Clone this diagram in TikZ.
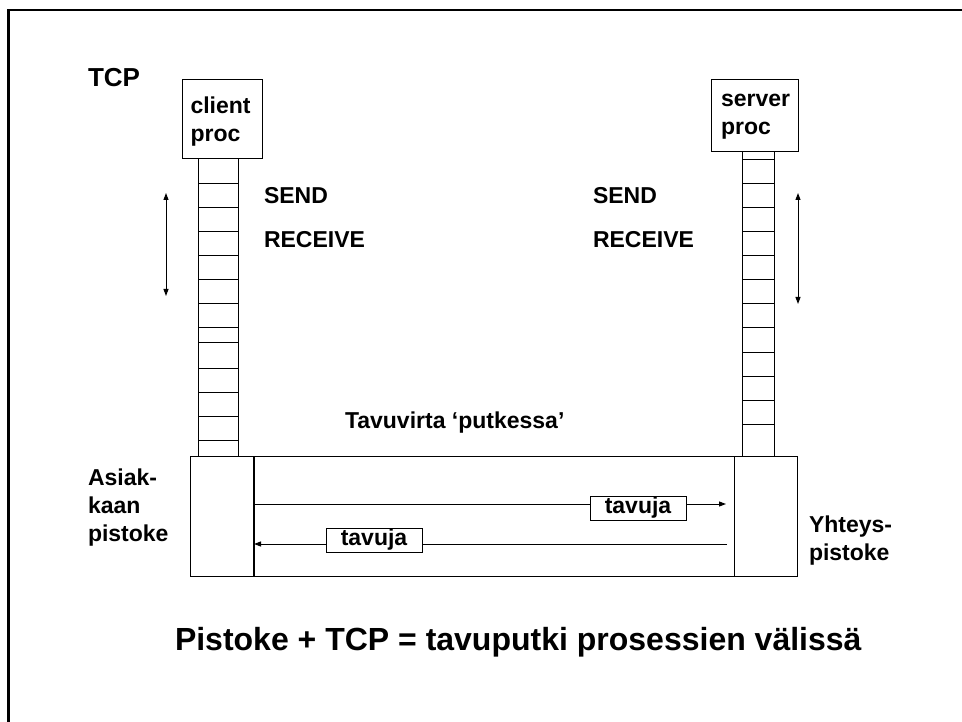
\documentclass[tikz,border=0pt]{standalone}
\usepackage{fontspec}
\setmainfont{Liberation Sans}
\usetikzlibrary{positioning, arrows.meta}

\begin{document}
\begin{tikzpicture}[x=1pt, y=-1pt, >={Stealth[length=7pt, width=5pt, inset=0pt]}, font=\bfseries\fontsize{23}{28}\selectfont, inner sep=0pt, outer sep=0pt]
    \tikzstyle{proc} = [rectangle, draw, line width=1pt]
    \tikzstyle{stack} = [rectangle, draw, line width=1pt]
    \tikzstyle{sock} = [rectangle, draw, line width=1pt, minimum height=120pt]
    \tikzstyle{tagbox} = [rectangle, draw, fill=white, line width=1pt, minimum width=96pt, minimum height=24pt]
    \tikzstyle{txt} = [anchor=base west, align=left]
    \tikzstyle{arrow} = [line width=1pt, ->]

    \useasboundingbox (0,0) rectangle (962,722);
    \draw [line width=2.5pt] (8.5,722) -- (8.5,10) -- (962,10);

    \node [txt, font=\bfseries\fontsize{26}{30}\selectfont] (tcp) at (88,87) {TCP};

    \node [proc, minimum width=80pt, minimum height=79pt] (cproc) at (222,119.5) {};
    \node [proc, minimum width=87pt, minimum height=72pt] (sproc) at (754.5,116) {};
    \node [txt] (cproctext) at (190.5,142) {client\\proc};
    \node [txt] (sproctext) at (721,135) {server\\proc};

    \node [stack, minimum width=40pt, minimum height=297pt, below=0pt of cproc, xshift=-4pt] (cstack) {};
    \node [stack, minimum width=32pt, minimum height=304pt, below=0pt of sproc, xshift=3.5pt] (sstack) {};
    \foreach \y in {184,208,232,256,280,304,328,343,368,392,416,440}
        \draw [line width=1pt] (198,\y) -- (238,\y);
    \foreach \y in {160,184,...,424}
        \draw [line width=1pt] (742,\y) -- (774,\y);

    \node [sock, minimum width=64pt, below=0pt of cstack, xshift=4pt] (csock) {};
    \node [sock, minimum width=63pt, below=0pt of sstack, xshift=7.5pt] (ssock) {};
    \draw [line width=1pt] (csock.north east) -- (ssock.north west);
    \draw [line width=1pt] (csock.south east) -- (ssock.south west);
    \draw [line width=2pt] (csock.north east) -- (csock.south east);

    \node [txt] (csend) at (264,204) {SEND};
    \node [txt] (crecv) at ([yshift=-44pt]csend.base west) {RECEIVE};
    \node [txt] (ssend) at (593,204) {SEND};
    \node [txt] (srecv) at ([yshift=-44pt]ssend.base west) {RECEIVE};

    \coordinate (cup) at (166,193);
    \coordinate (cdown) at (166,296);
    \coordinate (sup) at (798,193);
    \coordinate (sdown) at (798,304);
    \draw [arrow, <->] (cup) -- (cdown);
    \draw [arrow, <->] (sup) -- (sdown);

    \node [txt] (stream) at (345,428) {Tavuvirta ‘putkessa’};
    \node [txt] (cname) at (88,541) {Asiak-\\kaan\\pistoke};
    \node [txt] (sname) at (809,560) {Yhteys-\\pistoke};

    \coordinate (upend) at (726,504);
    \coordinate (lowstart) at (727,544);
    \draw [arrow] (csock.east |- upend) -- (upend);
    \draw [arrow] (lowstart) -- (csock.east |- lowstart);
    \node [tagbox] (uptag) at (638,508) {tavuja};
    \node [tagbox] (lowtag) at (374,540) {tavuja};

    \node [txt, font=\bfseries\fontsize{32}{38}\selectfont] (title) at (175,650) {Pistoke + TCP = tavuputki prosessien välissä};
\end{tikzpicture}
\end{document}
